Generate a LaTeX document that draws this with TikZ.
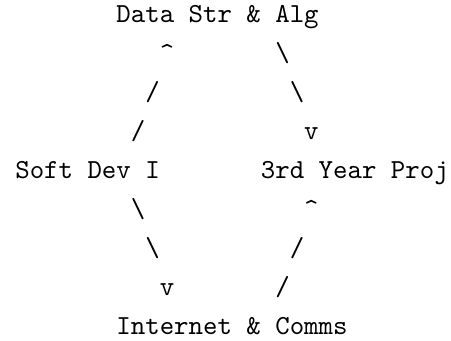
\documentclass[tikz,border=0pt]{standalone}
\usepackage{tikz}

\begin{document}
\begin{tikzpicture}[
                x=5.25pt, y=-14.17pt,
                every node/.append style={anchor=base west,inner sep=0pt,outer sep=0pt,font=\ttfamily}
            ]
                \useasboundingbox (-1.06,-0.59) rectangle (30.16,8.15);
                \node (dsa) at (7,0)  {Data Str \& Alg};
                \node (sdi) at (0,4)  {Soft Dev I};
                \node (typ) at (17,4) {3rd Year Proj};
                \node (ic)  at (7,8)  {Internet \& Comms};
                % Soft Dev I up to Data Str & Alg
                \node (sd-dsa-1) at (10,1) {\textasciicircum};
                \node (sd-dsa-2) at (9,2)  {/};
                \node (sd-dsa-3) at (8,3)  {/};
                % Data Str & Alg down to 3rd Year Proj
                \node (dsa-typ-1) at (18,1) {\textbackslash};
                \node (dsa-typ-2) at (19,2) {\textbackslash};
                \node (dsa-typ-3) at (20,3) {v};
                % Soft Dev I down to Internet & Comms
                \node (sd-ic-1) at (8,5)  {\textbackslash};
                \node (sd-ic-2) at (9,6)  {\textbackslash};
                \node (sd-ic-3) at (10,7) {v};
                % Internet & Comms up to 3rd Year Proj
                \node (ic-typ-1) at (20,5) {\textasciicircum};
                \node (ic-typ-2) at (19,6) {/};
                \node (ic-typ-3) at (18,7) {/};
            \end{tikzpicture}
\end{document}
